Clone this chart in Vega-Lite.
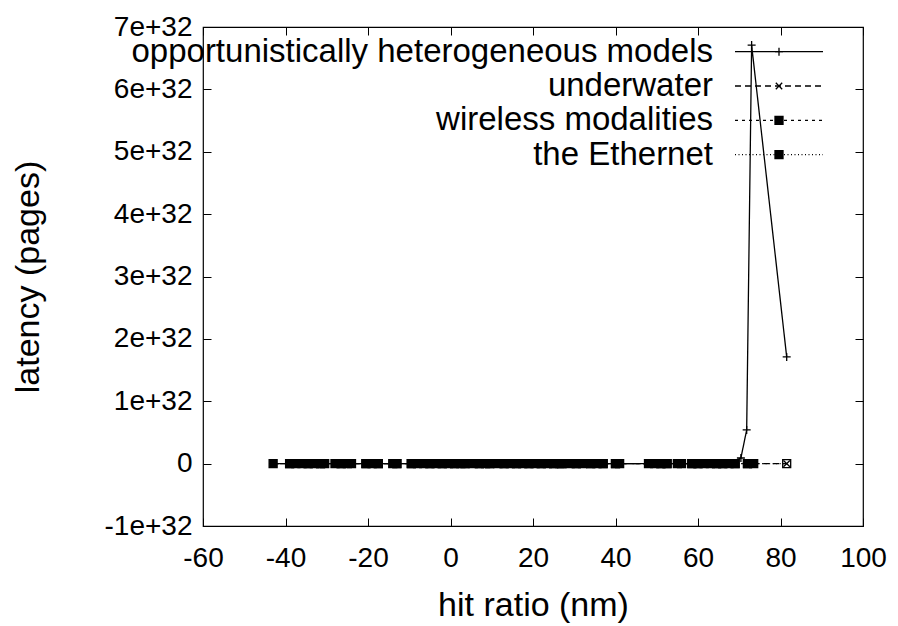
{
  "$schema": "https://vega.github.io/schema/vega-lite/v6.json",
  "width": 660,
  "height": 499,
  "autosize": "none",
  "padding": {"left": 203, "top": 27, "right": 35, "bottom": 100},
  "background": "white",
  "config": {
    "font": "Liberation Sans",
    "view": {"stroke": "black", "strokeWidth": 1.2},
    "axis": {"labelFont": "Liberation Sans", "titleFont": "Liberation Sans", "labelColor": "black", "titleColor": "black", "domainColor": "black", "tickColor": "black", "grid": false, "labelFontSize": 28, "titleFontSize": 34, "titleFontWeight": "normal"},
    "legend": {"labelFont": "Liberation Sans", "labelColor": "black"}
  },
  "data": {"values": [
    {"series": "opportunistically heterogeneous models", "x": -43, "y": 0},
    {"series": "opportunistically heterogeneous models", "x": -36, "y": 0},
    {"series": "opportunistically heterogeneous models", "x": -30.5, "y": 0},
    {"series": "opportunistically heterogeneous models", "x": -25, "y": 0},
    {"series": "opportunistically heterogeneous models", "x": -19, "y": 0},
    {"series": "opportunistically heterogeneous models", "x": -13, "y": 0},
    {"series": "opportunistically heterogeneous models", "x": -6.5, "y": 0},
    {"series": "opportunistically heterogeneous models", "x": -0.5, "y": 0},
    {"series": "opportunistically heterogeneous models", "x": 5.5, "y": 0},
    {"series": "opportunistically heterogeneous models", "x": 11.5, "y": 0},
    {"series": "opportunistically heterogeneous models", "x": 17.5, "y": 0},
    {"series": "opportunistically heterogeneous models", "x": 23.5, "y": 0},
    {"series": "opportunistically heterogeneous models", "x": 29, "y": 0},
    {"series": "opportunistically heterogeneous models", "x": 35.5, "y": 0},
    {"series": "opportunistically heterogeneous models", "x": 41, "y": 0},
    {"series": "opportunistically heterogeneous models", "x": 48, "y": 0},
    {"series": "opportunistically heterogeneous models", "x": 55, "y": 0},
    {"series": "opportunistically heterogeneous models", "x": 61.5, "y": 0},
    {"series": "opportunistically heterogeneous models", "x": 67.5, "y": 0},
    {"series": "opportunistically heterogeneous models", "x": 70.4, "y": 9e30},
    {"series": "opportunistically heterogeneous models", "x": 71.8, "y": 5.4e31},
    {"series": "opportunistically heterogeneous models", "x": 73, "y": 6.71e32},
    {"series": "opportunistically heterogeneous models", "x": 81.5, "y": 1.71e32},
    {"series": "underwater", "x": -43, "y": 0},
    {"series": "underwater", "x": -37.5, "y": 0},
    {"series": "underwater", "x": -33, "y": 0},
    {"series": "underwater", "x": -28, "y": 0},
    {"series": "underwater", "x": -24, "y": 0},
    {"series": "underwater", "x": -17.5, "y": 0},
    {"series": "underwater", "x": -14, "y": 0},
    {"series": "underwater", "x": -8, "y": 0},
    {"series": "underwater", "x": -3.5, "y": 0},
    {"series": "underwater", "x": 2.5, "y": 0},
    {"series": "underwater", "x": 8.5, "y": 0},
    {"series": "underwater", "x": 14.5, "y": 0},
    {"series": "underwater", "x": 20.5, "y": 0},
    {"series": "underwater", "x": 26.5, "y": 0},
    {"series": "underwater", "x": 32, "y": 0},
    {"series": "underwater", "x": 37, "y": 0},
    {"series": "underwater", "x": 49.5, "y": 0},
    {"series": "underwater", "x": 56, "y": 0},
    {"series": "underwater", "x": 63, "y": 0},
    {"series": "underwater", "x": 69, "y": 0},
    {"series": "underwater", "x": 73.5, "y": 0},
    {"series": "underwater", "x": 81.5, "y": 0},
    {"series": "wireless modalities", "x": -43, "y": 0},
    {"series": "wireless modalities", "x": -39, "y": 0},
    {"series": "wireless modalities", "x": -37.5, "y": 0},
    {"series": "wireless modalities", "x": -36, "y": 0},
    {"series": "wireless modalities", "x": -34.5, "y": 0},
    {"series": "wireless modalities", "x": -33, "y": 0},
    {"series": "wireless modalities", "x": -31.5, "y": 0},
    {"series": "wireless modalities", "x": -30.5, "y": 0},
    {"series": "wireless modalities", "x": -28, "y": 0},
    {"series": "wireless modalities", "x": -26.5, "y": 0},
    {"series": "wireless modalities", "x": -25, "y": 0},
    {"series": "wireless modalities", "x": -24, "y": 0},
    {"series": "wireless modalities", "x": -20.5, "y": 0},
    {"series": "wireless modalities", "x": -19, "y": 0},
    {"series": "wireless modalities", "x": -17.5, "y": 0},
    {"series": "wireless modalities", "x": -14, "y": 0},
    {"series": "wireless modalities", "x": -13, "y": 0},
    {"series": "wireless modalities", "x": -9.5, "y": 0},
    {"series": "wireless modalities", "x": -8, "y": 0},
    {"series": "wireless modalities", "x": -6.5, "y": 0},
    {"series": "wireless modalities", "x": -5, "y": 0},
    {"series": "wireless modalities", "x": -3.5, "y": 0},
    {"series": "wireless modalities", "x": -2, "y": 0},
    {"series": "wireless modalities", "x": -0.5, "y": 0},
    {"series": "wireless modalities", "x": 1, "y": 0},
    {"series": "wireless modalities", "x": 2.5, "y": 0},
    {"series": "wireless modalities", "x": 3.5, "y": 0},
    {"series": "wireless modalities", "x": 5.5, "y": 0},
    {"series": "wireless modalities", "x": 7, "y": 0},
    {"series": "wireless modalities", "x": 8.5, "y": 0},
    {"series": "wireless modalities", "x": 9.5, "y": 0},
    {"series": "wireless modalities", "x": 11.5, "y": 0},
    {"series": "wireless modalities", "x": 13, "y": 0},
    {"series": "wireless modalities", "x": 14.5, "y": 0},
    {"series": "wireless modalities", "x": 16, "y": 0},
    {"series": "wireless modalities", "x": 17.5, "y": 0},
    {"series": "wireless modalities", "x": 19, "y": 0},
    {"series": "wireless modalities", "x": 20.5, "y": 0},
    {"series": "wireless modalities", "x": 22, "y": 0},
    {"series": "wireless modalities", "x": 23.5, "y": 0},
    {"series": "wireless modalities", "x": 25, "y": 0},
    {"series": "wireless modalities", "x": 26.5, "y": 0},
    {"series": "wireless modalities", "x": 27, "y": 0},
    {"series": "wireless modalities", "x": 29, "y": 0},
    {"series": "wireless modalities", "x": 30.5, "y": 0},
    {"series": "wireless modalities", "x": 32, "y": 0},
    {"series": "wireless modalities", "x": 34, "y": 0},
    {"series": "wireless modalities", "x": 35.5, "y": 0},
    {"series": "wireless modalities", "x": 37, "y": 0},
    {"series": "wireless modalities", "x": 40, "y": 0},
    {"series": "wireless modalities", "x": 41, "y": 0},
    {"series": "wireless modalities", "x": 48, "y": 0},
    {"series": "wireless modalities", "x": 49.5, "y": 0},
    {"series": "wireless modalities", "x": 51, "y": 0},
    {"series": "wireless modalities", "x": 52.5, "y": 0},
    {"series": "wireless modalities", "x": 55, "y": 0},
    {"series": "wireless modalities", "x": 56, "y": 0},
    {"series": "wireless modalities", "x": 58.5, "y": 0},
    {"series": "wireless modalities", "x": 60, "y": 0},
    {"series": "wireless modalities", "x": 61.5, "y": 0},
    {"series": "wireless modalities", "x": 63, "y": 0},
    {"series": "wireless modalities", "x": 64.5, "y": 0},
    {"series": "wireless modalities", "x": 66, "y": 0},
    {"series": "wireless modalities", "x": 67.5, "y": 0},
    {"series": "wireless modalities", "x": 69, "y": 0},
    {"series": "wireless modalities", "x": 72, "y": 0},
    {"series": "wireless modalities", "x": 73.5, "y": 0},
    {"series": "the Ethernet", "x": -39, "y": 0},
    {"series": "the Ethernet", "x": -34.5, "y": 0},
    {"series": "the Ethernet", "x": -31.5, "y": 0},
    {"series": "the Ethernet", "x": -26.5, "y": 0},
    {"series": "the Ethernet", "x": -20.5, "y": 0},
    {"series": "the Ethernet", "x": -17.5, "y": 0},
    {"series": "the Ethernet", "x": -13, "y": 0},
    {"series": "the Ethernet", "x": -9.5, "y": 0},
    {"series": "the Ethernet", "x": -5, "y": 0},
    {"series": "the Ethernet", "x": -2, "y": 0},
    {"series": "the Ethernet", "x": 1, "y": 0},
    {"series": "the Ethernet", "x": 3.5, "y": 0},
    {"series": "the Ethernet", "x": 7, "y": 0},
    {"series": "the Ethernet", "x": 9.5, "y": 0},
    {"series": "the Ethernet", "x": 13, "y": 0},
    {"series": "the Ethernet", "x": 16, "y": 0},
    {"series": "the Ethernet", "x": 19, "y": 0},
    {"series": "the Ethernet", "x": 22, "y": 0},
    {"series": "the Ethernet", "x": 25, "y": 0},
    {"series": "the Ethernet", "x": 27, "y": 0},
    {"series": "the Ethernet", "x": 30.5, "y": 0},
    {"series": "the Ethernet", "x": 34, "y": 0},
    {"series": "the Ethernet", "x": 37, "y": 0},
    {"series": "the Ethernet", "x": 40, "y": 0},
    {"series": "the Ethernet", "x": 51, "y": 0},
    {"series": "the Ethernet", "x": 52.5, "y": 0},
    {"series": "the Ethernet", "x": 58.5, "y": 0},
    {"series": "the Ethernet", "x": 60, "y": 0},
    {"series": "the Ethernet", "x": 64.5, "y": 0},
    {"series": "the Ethernet", "x": 66, "y": 0},
    {"series": "the Ethernet", "x": 69, "y": 0},
    {"series": "the Ethernet", "x": 72, "y": 0},
    {"series": "the Ethernet", "x": 81.5, "y": 0}
  ]},
  "layer": [
    {
      "mark": {"type": "line", "color": "black", "strokeWidth": 1.3},
      "encoding": {
        "x": {"field": "x", "type": "quantitative", "scale": {"domain": [-60, 100], "nice": false, "zero": false},
          "axis": {"values": [-60, -40, -20, 0, 20, 40, 60, 80, 100], "labelExpr": "'' + datum.value", "title": "hit ratio (nm)", "tickSize": -8, "labelPadding": 26, "titlePadding": 16, "domain": false, "labelFlush": false}},
        "y": {"field": "y", "type": "quantitative", "scale": {"domain": [-1e32, 7e32], "nice": false, "zero": false},
          "axis": {"values": [-1e32, 0, 1e32, 2e32, 3e32, 4e32, 5e32, 6e32, 7e32], "labelExpr": "datum.value == 0 ? '0' : round(datum.value / 1e32) + 'e+32'", "title": "latency (pages)", "tickSize": -8, "labelPadding": 19, "titlePadding": 59, "domain": false, "labelFlush": false}},
        "strokeDash": {"field": "series", "type": "nominal",
          "scale": {"domain": ["opportunistically heterogeneous models", "underwater", "wireless modalities", "the Ethernet"], "range": [[1, 0], [6, 4], [3, 4], [1, 2.5]]},
          "legend": {"orient": "none", "legendX": 559.5, "legendY": 8.2, "title": null, "symbolType": "M-5,0H5", "symbolSize": 309.76, "symbolStrokeColor": "black", "symbolFillColor": "transparent", "symbolOpacity": 1, "symbolStrokeWidth": 1.3, "labelAlign": "right", "labelOffset": -82.5, "labelFontSize": 33, "labelLimit": 1000, "rowPadding": 0.3, "padding": 0}}
      }
    },
    {
      "mark": {"type": "point", "stroke": "black", "strokeWidth": 1.3, "opacity": 1},
      "encoding": {
        "x": {"field": "x", "type": "quantitative", "axis": {"orient": "top", "values": [-60, -40, -20, 0, 20, 40, 60, 80, 100], "labels": false, "title": null, "tickSize": -8, "domain": false}},
        "y": {"field": "y", "type": "quantitative", "axis": {"orient": "right", "values": [-1e32, 0, 1e32, 2e32, 3e32, 4e32, 5e32, 6e32, 7e32], "labels": false, "title": null, "tickSize": -8, "domain": false}},
        "shape": {"field": "series", "type": "nominal", "sort": ["opportunistically heterogeneous models", "underwater", "wireless modalities", "the Ethernet"],
          "scale": {"range": ["M-1,0H1M0,-1V1", "M-0.8,-0.8L0.8,0.8M-0.8,0.8L0.8,-0.8", "square", "square"]},
          "legend": {"orient": "none", "legendX": 559.5, "legendY": 8.2, "title": null, "symbolSize": 64, "symbolStrokeColor": "black", "symbolFillColor": "black", "symbolOpacity": 1, "symbolStrokeWidth": 1.3, "labelExpr": "' '", "labelFontSize": 33, "rowPadding": 0.3, "padding": 0}},
        "fill": {"field": "series", "type": "nominal", "sort": ["opportunistically heterogeneous models", "underwater", "wireless modalities", "the Ethernet"],
          "scale": {"range": ["black", "black", "black", "transparent"]}, "legend": null},
        "size": {"value": 64}
      }
    }
  ],
  "resolve": {"axis": {"x": "independent", "y": "independent"}}
}
